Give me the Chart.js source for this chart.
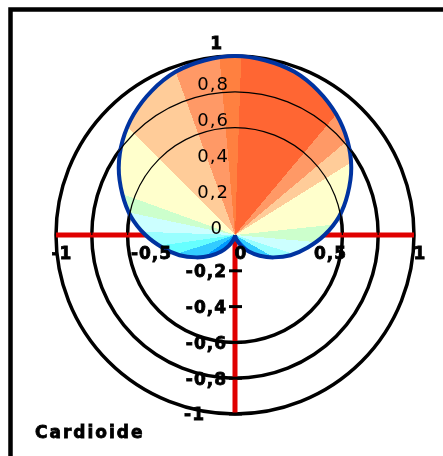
<!DOCTYPE html>
<html>
<head>
<meta charset="utf-8">
<script src="https://cdn.jsdelivr.net/npm/chart.js@4"></script>
<style>
html, body { margin: 0; padding: 0; background: #fff; }
canvas { display: block; }
</style>
</head>
<body>
<canvas id="chart" width="443" height="456"></canvas>
<script>
// Cardioid: polar angle (degrees) and radius
var angleDeg = [-90, -80, -70, -60, -50, -40, -30, -20, -10, 0, 10, 20, 30, 40, 50, 60, 70, 80, 90,
	100, 110, 120, 130, 140, 150, 160, 170, 180, 190, 200, 210, 220, 230, 240, 250, 260, 270];
var radius = [0, 0.01, 0.03, 0.07, 0.12, 0.18, 0.25, 0.33, 0.41, 0.5, 0.59, 0.67, 0.75, 0.82, 0.88, 0.93, 0.97, 0.99, 1,
	0.99, 0.97, 0.93, 0.88, 0.82, 0.75, 0.67, 0.59, 0.5, 0.41, 0.33, 0.25, 0.18, 0.12, 0.07, 0.03, 0.01, 0];

// Rings and axis ticks
var ringRadii = [0.6, 0.8, 1];
var thinRings = [0.6, 0.8];
var xTicks = [-1, -0.5, 0, 0.5, 1];
var xTickLabels = ['-1', '-0,5', '0', '0,5', '1'];
var yTicksUp = [0, 0.2, 0.4, 0.6, 0.8];
var yTickLabelsUp = ['0', '0,2', '0,4', '0,6', '0,8'];
var yTicksDown = [-0.2, -0.4, -0.6, -0.8, -1];
var yTickLabelsDown = ['-0,2', '-0,4', '-0,6', '-0,8', '-1'];
var title = 'Cardioide';

// colour bands of the fill, by polar angle in degrees (counter-clockwise from +x)
var FILL_BANDS = [
	[0, 6, '#CCFFCC'],
	[6, 32, '#FFFFCC'],
	[32, 40, '#FFCC99'],
	[40, 50, '#FF9966'],
	[50, 88, '#FF6633'],
	[88, 95, '#FF8040'],
	[95, 110, '#FF9966'],
	[110, 135, '#FFCC99'],
	[135, 160, '#FFFFCC'],
	[160, 168, '#CCFFCC'],
	[168, 178, '#CCFFFF'],
	[178, 188, '#99FFFF'],
	[188, 198, '#66FFFF'],
	[198, 215, '#33CCFF'],
	[215, 315, '#0099FF'],
	[315, 330, '#33CCFF'],
	[330, 342, '#99FFFF'],
	[342, 355, '#CCFFFF'],
	[355, 360, '#CCFFCC']
];

var BOLD = 'bold 17px "DejaVu Sans"';
var PLAIN = '18px "DejaVu Sans"';

var cardioidPoints = angleDeg.map(function (a, i) {
	var t = a * Math.PI / 180;
	return { x: radius[i] * Math.cos(t), y: radius[i] * Math.sin(t) };
});

function cardioidFill(context) {
	var chart = context.chart;
	var ctx = chart.ctx;
	if (!chart.chartArea || !ctx.createConicGradient) return '#FFCC99';
	var cx = chart.scales.x.getPixelForValue(0);
	var cy = chart.scales.y.getPixelForValue(0);
	var g = ctx.createConicGradient(0, cx, cy);
	for (var i = FILL_BANDS.length - 1; i >= 0; i--) {
		var b = FILL_BANDS[i];
		g.addColorStop((360 - b[1]) / 360, b[2]);
		g.addColorStop((360 - b[0]) / 360, b[2]);
	}
	return g;
}

function label(ctx, text, x, y, align, font, heavy, spacing) {
	ctx.font = font;
	ctx.letterSpacing = spacing || '1px';
	ctx.textAlign = align;
	ctx.textBaseline = 'middle';
	ctx.fillStyle = '#000';
	if (heavy) {
		ctx.lineWidth = 0.8;
		ctx.strokeStyle = '#000';
		ctx.strokeText(text, x, y);
	}
	ctx.fillText(text, x, y);
	ctx.letterSpacing = '0px';
}

// white page and the black frame
var framePlugin = {
	id: 'frame',
	beforeDraw: function (chart) {
		var ctx = chart.ctx;
		ctx.save();
		ctx.fillStyle = '#fff';
		ctx.fillRect(0, 0, chart.width, chart.height);
		ctx.strokeStyle = '#000';
		ctx.lineWidth = 4.5;
		ctx.beginPath();
		ctx.moveTo(10.5, chart.height);
		ctx.lineTo(10.5, 9.5);
		ctx.lineTo(chart.width, 9.5);
		ctx.stroke();
		ctx.restore();
	}
};

// thick rings and red axes, underneath the filled cardioid
var underlayPlugin = {
	id: 'underlay',
	beforeDatasetsDraw: function (chart) {
		var ctx = chart.ctx;
		var sx = chart.scales.x, sy = chart.scales.y;
		var cx = sx.getPixelForValue(0), cy = sy.getPixelForValue(0);
		ctx.save();
		ctx.strokeStyle = '#000';
		ctx.lineWidth = 3.5;
		ringRadii.forEach(function (r) {
			ctx.beginPath();
			ctx.arc(cx, cy, sx.getPixelForValue(r) - cx, 0, Math.PI * 2);
			ctx.stroke();
		});
		ctx.strokeStyle = '#E00000';
		ctx.lineWidth = 5;
		ctx.beginPath();
		ctx.moveTo(sx.getPixelForValue(-1), cy);
		ctx.lineTo(sx.getPixelForValue(1), cy);
		ctx.moveTo(cx, cy);
		ctx.lineTo(cx, sy.getPixelForValue(-1));
		ctx.stroke();
		ctx.restore();
	}
};

// thin rings, ticks and all the labels on top
var overlayPlugin = {
	id: 'overlay',
	afterDatasetsDraw: function (chart) {
		var ctx = chart.ctx;
		var sx = chart.scales.x, sy = chart.scales.y;
		var cx = sx.getPixelForValue(0), cy = sy.getPixelForValue(0);
		ctx.save();
		ctx.strokeStyle = '#000';
		ctx.lineWidth = 1.2;
		thinRings.forEach(function (r) {
			ctx.beginPath();
			ctx.arc(cx, cy, sx.getPixelForValue(r) - cx, Math.PI, Math.PI * 2);
			ctx.stroke();
		});

		ctx.lineWidth = 3;
		yTicksDown.forEach(function (v) {
			var y = sy.getPixelForValue(v);
			ctx.beginPath();
			ctx.moveTo(cx - 6, y);
			ctx.lineTo(cx + 7, y);
			ctx.stroke();
		});

		xTicks.forEach(function (v, i) {
			label(ctx, xTickLabels[i], sx.getPixelForValue(v) + 6, cy + 20, 'center', BOLD, true);
		});
		yTicksUp.forEach(function (v, i) {
			var right = v === 0 ? cx - 12 : cx - 6;
			label(ctx, yTickLabelsUp[i], right, sy.getPixelForValue(v) - 6, 'right', PLAIN, false);
		});
		label(ctx, '1', cx - 12, sy.getPixelForValue(1) - 11, 'right', BOLD, true);
		yTicksDown.forEach(function (v, i) {
			var right = v === -1 ? cx - 30 : cx - 8;
			label(ctx, yTickLabelsDown[i], right, sy.getPixelForValue(v) + 2, 'right', BOLD, true);
		});

		ctx.textBaseline = 'alphabetic';
		ctx.textAlign = 'left';
		ctx.font = BOLD;
		ctx.letterSpacing = '2px';
		ctx.lineWidth = 0.8;
		ctx.strokeText(title, 35, 438);
		ctx.fillText(title, 35, 438);
		ctx.restore();
	}
};

new Chart(document.getElementById('chart'), {
	type: 'line',
	data: {
		datasets: [{
			data: cardioidPoints,
			fill: 'shape',
			backgroundColor: cardioidFill,
			borderColor: '#0033A0',
			borderWidth: 4,
			borderJoinStyle: 'round',
			tension: 0.3,
			pointRadius: 0,
			clip: 8
		}]
	},
	options: {
		responsive: false,
		animation: false,
		devicePixelRatio: 1,
		layout: { padding: { left: 56, right: 29, top: 56, bottom: 42 } },
		scales: {
			x: { type: 'linear', min: -1, max: 1, display: false },
			y: { type: 'linear', min: -1, max: 1, display: false }
		},
		plugins: {
			legend: { display: false },
			tooltip: { enabled: false }
		}
	},
	plugins: [framePlugin, underlayPlugin, overlayPlugin]
});
</script>
</body>
</html>
